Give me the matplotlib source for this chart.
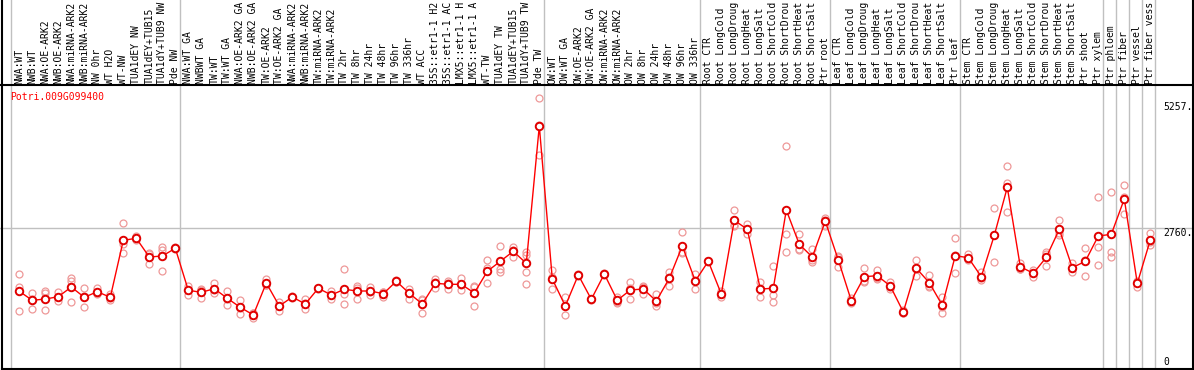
import numpy as np
import matplotlib
matplotlib.use("Agg")
import matplotlib.pyplot as plt
from matplotlib.lines import Line2D
import matplotlib.transforms as mtransforms

gene = "Potri.009G099400"

labels = [
    "NWA:WT", "NWB:WT", "NWA:OE-ARK2", "NWB:OE-ARK2", "NWA:miRNA-ARK2", "NWB:miRNA-ARK2",
    "NW 0hr", "WT H2O", "WT-NW", "TUA1dEY NW", "TUA1dEY+TUB15 NW", "TUA1dY+TUB9 NW", "Pde NW",
    "NWA:WT GA", "NWBWT GA", "TW:WT", "TW:WT GA", "NWA:OE-ARK2 GA", "NWB:OE-ARK2 GA",
    "TW:OE-ARK2", "TW:OE-ARK2 GA", "NWA:miRNA-ARK2 GA", "NWB:miRNA-ARK2 GA", "TW:miRNA-ARK2",
    "TW:miRNA-ARK2 GA", "TW 2hr", "TW 8hr", "TW 24hr", "TW 48hr", "TW 96hr", "TW 336hr",
    "WT ACC", "35S::etr1-1 H2O", "35S::etr1-1 ACC", "LMX5::etr1-1 H2O", "LMX5::etr1-1 ACC",
    "WT-TW", "TUA1dEY TW", "TUA1dEY+TUB15 TW", "TUA1dY+TUB9 TW", "Pde TW",
    "OW:WT", "OW:WT GA", "OW:OE-ARK2", "OW:OE-ARK2 GA", "OW:miRNA-ARK2", "OW:miRNA-ARK2 GA",
    "OW 2hr", "OW 8hr", "OW 24hr", "OW 48hr", "OW 96hr", "OW 336hr",
    "Root CTR", "Root LongCold", "Root LongDrought", "Root LongHeat", "Root LongSalt",
    "Root ShortCold", "Root ShortDrought", "Root ShortHeat", "Root ShortSalt", "Ptr root",
    "Leaf CTR", "Leaf LongCold", "Leaf LongDrought", "Leaf LongHeat", "Leaf LongSalt",
    "Leaf ShortCold", "Leaf ShortDrought", "Leaf ShortHeat", "Leaf ShortSalt", "Ptr leaf",
    "Stem CTR", "Stem LongCold", "Stem LongDrought", "Stem LongHeat", "Stem LongSalt",
    "Stem ShortCold", "Stem ShortDrought", "Stem ShortHeat", "Stem ShortSalt", "Ptr shoot",
    "Ptr xylem", "Ptr phloem", "Ptr fiber", "Ptr vessel", "Ptr fiber vessel",
]

# the label strip only has room for 14 characters
label_width = 14

# number of samples in each block between the grey separators
group_sizes = [13, 28, 12, 10, 10, 11, 1, 1, 1, 1]

means = [
    1503, 1324, 1350, 1396, 1588, 1384, 1495, 1384, 2516, 2555, 2184, 2204, 2357,
    1523, 1483, 1555, 1364, 1185, 1033, 1668, 1211, 1390, 1251, 1563, 1430, 1543,
    1509, 1509, 1455, 1702, 1463, 1251, 1662, 1642, 1642, 1469, 1900, 2099, 2297,
    2059, 4785,
    1747, 1211, 1827, 1344, 1847, 1324, 1529, 1549, 1310, 1761, 2403, 1708,
    2099, 1449, 2913, 2734, 1549, 1563, 3117, 2436, 2184, 2893,
    2125, 1316, 1793, 1813, 1608, 1092, 1960, 1674, 1225, 2210,
    2170, 1793, 2615, 3568, 1992, 1860, 2178, 2734, 1972, 2099, 2601,
    2635, 3336, 1662, 2522,
]

reps = [
    [1847, 1594, 1112], [1469, 1152, 1350], [1509, 1463, 1132], [1489, 1316, 1384],
    [1773, 1714, 1285], [1563, 1185, 1400], [1563, 1455, 1467], [1443, 1330, 1380],
    [2853, 2436, 2258], [2595, 2555, 2515], [2270, 2039, 2243], [2383, 2317, 1900],
    [2377, 2337, 2357],
    [1608, 1436, 1525], [1543, 1370, 1536], [1662, 1529, 1475], [1509, 1225, 1358],
    [1330, 1052, 1173], [1066, 967, 1066], [1741, 1628, 1635], [1297, 1118, 1218],
    [1410, 1364, 1396], [1344, 1146, 1263], [1563, 1570, 1556], [1509, 1344, 1437],
    [1940, 1449, 1251], [1608, 1344, 1575], [1594, 1436, 1497], [1495, 1384, 1486],
    [1727, 1690, 1690], [1555, 1356, 1478], [1330, 1066, 1357], [1741, 1563, 1682],
    [1674, 1549, 1703], [1761, 1529, 1636], [1608, 1211, 1588], [2119, 1966, 1662],
    [2403, 1952, 1892], [2377, 2190, 2324], [2290, 2230, 1892, 1642], [5341, 4203, 4811],
    [1920, 1543, 1778], [1384, 1033, 1216], [1827, 1840, 1815], [1344, 1360, 1330],
    [1847, 1860, 1835], [1396, 1277, 1300], [1682, 1344, 1561], [1608, 1443, 1596],
    [1449, 1211, 1270], [1892, 1608, 1783], [2675, 2258, 2276], [1847, 1555, 1722],
    [2099, 2110, 2090], [1396, 1449, 1500], [3117, 2806, 2816], [2833, 2635, 2734],
    [1694, 1384, 1569], [2005, 1430, 1285], [4388, 2641, 2289], [2641, 2323, 2344],
    [2337, 2085, 2130], [2965, 2800, 2914],
    [2204, 1992, 2179], [1364, 1265, 1319], [1972, 1694, 1713], [1926, 1741, 1772],
    [1694, 1543, 1587], [1132, 1072, 1072], [2125, 1807, 1948], [1827, 1583, 1612],
    [1396, 1078, 1201], [2555, 1860, 2215],
    [2244, 2140, 2126], [1892, 1760, 1727], [3151, 2079, 2615], [3991, 3659, 3084],
    [2071, 1950, 1955], [1926, 1793, 1861], [2289, 2011, 2234], [2919, 2621, 2662],
    [2059, 1892, 1965], [2357, 1807, 2133], [3381, 2377, 2025],
    [3481, 2278, 2178], [3608, 3032, 3368], [1694, 1594, 1698], [2655, 2422, 2489],
]

yticks = [0, 2760, 5257]
ytick_labels = ["0", "2760.", "5257."]

W, H = 1194, 370
fig = plt.figure(figsize=(W / 100, H / 100), dpi=100)
ax = fig.add_axes([0, 0, 1, 1])
ax.set_axis_off()

# pixel layout: sample i sits at 19.3 + 13*i px, value 0 at 367 px from top
px_per_unit = 139 / 2760
ax.set_xlim(-19.3 / 13, (W - 19.3) / 13)
ax.set_ylim(-(H - 367) / px_per_unit, 367 / px_per_unit)

mono = "DejaVu Sans Mono"
fs = 7.0
x = np.arange(len(labels))

# grid lines
ax.axhline(2760, color="#c0c0c0", lw=1, zorder=1)
bounds = np.concatenate([[0], np.cumsum(group_sizes)]) - 0.65
for b in bounds:
    ax.axvline(b, color="#c0c0c0", lw=1, zorder=1)

# replicates
for i, r in enumerate(reps):
    ax.plot([i] * len(r), r, linestyle="none", marker="o", ms=5, mfc="none",
            mec="#ee9898", mew=0.9, zorder=2)

# mean line and points
ax.plot(x, means, color="#ff0000", lw=1, zorder=3)
ax.plot(x, means, linestyle="none", marker="o", ms=5.4, mfc="white",
        mec="#e00000", mew=1.4, zorder=4)

# sample labels along the top
top = mtransforms.blended_transform_factory(ax.transData, ax.transAxes)
for i, lab in enumerate(labels):
    ax.text(i, (H - 84) / H, lab[:label_width].rstrip(), rotation=90,
            ha="center", va="bottom", family=mono, fontsize=fs, transform=top)

# value labels on the right
right = mtransforms.blended_transform_factory(ax.transAxes, ax.transData)
for v, t in zip(yticks, ytick_labels):
    ax.text(1163 / W, v, t, ha="left", va="bottom" if v == 0 else "top",
            family=mono, fontsize=fs, transform=right)

fig.text(10 / W, 1 - 97 / H, gene, color="#ff0000", family=mono, fontsize=fs,
         ha="left", va="center")

# black frame
def fline(x0, y0, x1, y1):
    fig.add_artist(Line2D([x0 / W, x1 / W], [1 - y0 / H, 1 - y1 / H],
                          transform=fig.transFigure, color="black", lw=1.5))

fline(1.5, 0, 1.5, 369)
fline(1192.5, 0, 1192.5, 369)
fline(1.5, 368.5, 1193, 368.5)
fline(0, 85, W, 85)

fig.savefig("out.png", dpi=100)
